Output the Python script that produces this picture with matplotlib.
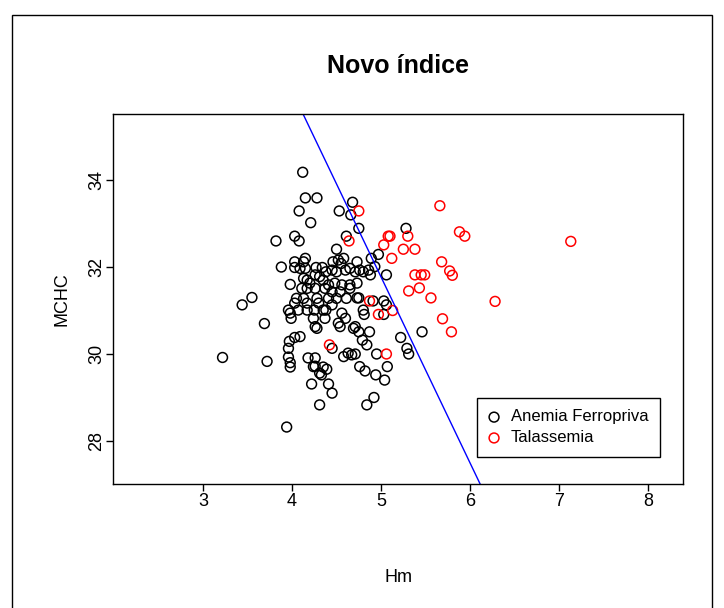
import matplotlib
matplotlib.use("Agg")
import matplotlib.pyplot as plt
from matplotlib.patches import Rectangle

plt.rcParams['font.family'] = ['Liberation Sans', 'DejaVu Sans']

# Anemia Ferropriva (preto)
ferro_hm = [3.22, 3.44, 3.55, 3.69, 3.72, 3.94, 3.88, 3.98, 3.96, 3.98, 3.99, 4.03, 4.09, 3.97,
            3.96, 3.96, 3.98, 3.98, 4.18, 4.26, 4.26, 4.35, 4.39, 4.31, 4.33, 4.22, 4.41, 4.45,
            4.31, 4.25, 4.26, 4.28, 4.12, 4.15, 4.28, 4.08, 4.21, 4.68, 4.53, 4.66, 4.75, 3.82,
            4.03, 4.08, 4.61, 4.50, 4.03, 4.15, 4.13, 4.09, 4.15, 4.27, 4.34, 4.46, 4.52, 4.55,
            4.58, 4.45, 4.50, 4.60, 4.65, 4.71, 4.13, 4.17, 4.20, 4.26, 4.31, 4.35, 4.41, 4.48,
            4.56, 4.65, 4.73, 5.28, 4.89, 4.97, 4.73, 4.76, 4.80, 4.86, 4.88, 4.93, 5.06, 4.73,
            4.75, 4.91, 5.03, 5.06, 4.80, 4.81, 5.03, 4.71, 4.75, 4.87, 5.22, 5.46, 4.79, 4.84,
            5.29, 5.31, 4.95, 4.71, 4.76, 4.82, 4.94, 5.04, 5.07, 4.92, 4.84, 4.11, 4.17, 4.26,
            4.37, 4.45, 4.54, 4.65, 4.05, 4.13, 4.28, 4.41, 4.50, 4.61, 4.03, 4.17, 4.30, 4.07,
            4.17, 4.35, 4.45, 4.24, 4.37, 4.56, 4.60, 4.52, 4.54, 4.69, 4.45, 4.58, 4.63, 4.67,
            4.24, 4.03, 4.38, 4.38]
ferro_mchc = [29.92, 31.13, 31.30, 30.70, 29.83, 28.32, 32.00, 31.60, 31.01, 30.94, 30.82, 30.38,
              30.40, 30.29, 30.13, 29.93, 29.80, 29.70, 29.91, 29.91, 29.72, 29.70, 29.65, 29.56,
              29.52, 29.31, 29.31, 29.10, 28.83, 31.01, 30.63, 30.59, 34.18, 33.59, 33.59, 33.29,
              33.02, 33.49, 33.29, 33.20, 32.89, 32.60, 32.71, 32.60, 32.71, 32.41, 32.12, 32.20,
              32.12, 31.97, 31.97, 31.99, 31.99, 32.12, 32.16, 32.08, 32.20, 31.93, 31.89, 31.93,
              31.97, 31.89, 31.74, 31.70, 31.63, 31.82, 31.78, 31.70, 31.59, 31.63, 31.59, 31.59,
              31.63, 32.89, 32.20, 32.29, 32.12, 31.93, 31.89, 31.93, 31.82, 32.01, 31.82, 31.29,
              31.29, 31.22, 31.22, 31.13, 31.01, 30.91, 30.91, 30.63, 30.51, 30.51, 30.38, 30.51,
              30.32, 30.21, 30.13, 30.00, 30.00, 30.00, 29.71, 29.61, 29.52, 29.40, 29.71, 29.00,
              28.83, 31.51, 31.51, 31.51, 31.51, 31.43, 31.43, 31.51, 31.28, 31.28, 31.28, 31.28,
              31.28, 31.28, 31.17, 31.17, 31.17, 31.01, 31.01, 31.01, 31.13, 30.82, 30.82, 30.94,
              30.82, 30.71, 30.63, 30.59, 30.13, 29.94, 30.02, 29.98, 29.71, 31.99, 31.89, 31.01]

# Talassemia (vermelho)
tala_hm = [4.75, 4.64, 5.66, 5.08, 5.10, 5.30, 5.03, 5.25, 5.38, 5.12, 5.68, 5.38, 5.45, 5.49,
           5.31, 5.43, 5.88, 5.94, 5.77, 5.80, 5.56, 6.28, 5.69, 5.79, 7.13, 4.87, 4.97, 5.13,
           5.06, 4.42]
tala_mchc = [33.29, 32.60, 33.41, 32.71, 32.71, 32.71, 32.51, 32.41, 32.41, 32.20, 32.12, 31.82,
             31.82, 31.82, 31.45, 31.52, 32.81, 32.71, 31.91, 31.81, 31.29, 31.21, 30.81, 30.51,
             32.59, 31.22, 30.91, 31.00, 30.00, 30.21]

# reta do novo indice: MCHC = a + b * Hm
reta_a = 53.17
reta_b = -4.28

fig = plt.figure(figsize=(7.24, 6.08), dpi=100)
ax = fig.add_axes([113 / 724, 1 - 484 / 608, 570 / 724, 370 / 608])

ax.scatter(ferro_hm, ferro_mchc, s=50, facecolors='none', edgecolors='black',
           linewidths=1.1, label='Anemia Ferropriva')
ax.scatter(tala_hm, tala_mchc, s=50, facecolors='none', edgecolors='red',
           linewidths=1.1, label='Talassemia')
ax.axline((0, reta_a), slope=reta_b, color='blue', lw=1)

ax.set_xlim(1.99, 8.39)
ax.set_ylim(27.01, 35.52)
ax.set_xticks([3, 4, 5, 6, 7, 8])
ax.set_yticks([28, 30, 32, 34])
ax.tick_params(labelsize=13, length=5, width=1, pad=1.5)
ax.tick_params(axis='y', pad=0.5)
plt.setp(ax.get_yticklabels(), rotation=90, va='center')
for s in ax.spines.values():
    s.set_linewidth(1)

fig.text(398 / 724, 1 - 66 / 608, 'Novo índice', fontsize=18, fontweight='bold',
         ha='center', va='center')
fig.text(398 / 724, 1 - 577 / 608, 'Hm', fontsize=13, ha='center', va='center')
fig.text(62 / 724, 1 - 299 / 608, 'MCHC', fontsize=13, ha='center', va='center', rotation=90)

leg = ax.legend(loc='lower right', bbox_to_anchor=((660 - 113) / 570, (484 - 457) / 370),
                borderaxespad=0, fontsize=12, frameon=True, fancybox=False,
                edgecolor='black', framealpha=1, handletextpad=0.7, borderpad=0.7,
                labelspacing=0.35, handlelength=0.6)
leg.get_frame().set_linewidth(1)

# moldura externa
fig.patches.append(Rectangle((12 / 724, -0.05), 700 / 724, 1 - 15 / 608 + 0.05,
                             transform=fig.transFigure, fill=False, edgecolor='black', lw=1))

fig.savefig('out.png', dpi=100)
